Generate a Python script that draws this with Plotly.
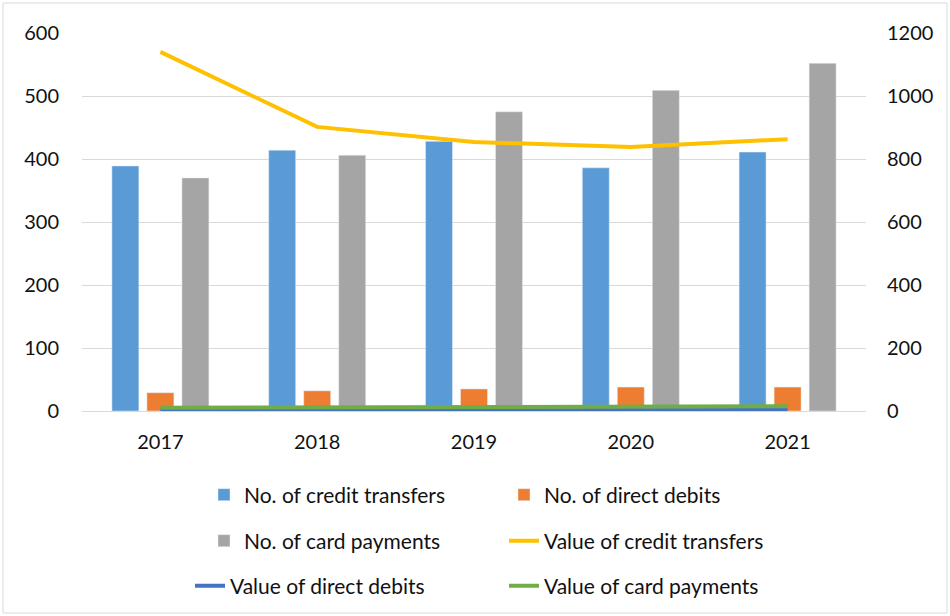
import plotly.graph_objects as go

years = ["2017", "2018", "2019", "2020", "2021"]

# nombre d'opérations (axe gauche)
nb_credit_transfers = [389, 414, 428, 386, 411]
nb_direct_debits = [29, 32, 35, 38, 38]
nb_card_payments = [370, 406, 475, 509, 552]

# valeurs (axe droit)
val_credit_transfers = [1140, 902, 854, 838, 863]
val_direct_debits = [2, 2, 3, 3, 3]
val_card_payments = [10, 11, 12, 14, 15]

FONT = "Lato"
TXT = "#111111"
W, H = 950, 616
L, R, T, B = 82, 84, 33, 205
pw, ph = W - L - R, H - T - B

fig = go.Figure()

fig.add_trace(go.Bar(x=years, y=nb_credit_transfers, name="No. of credit transfers",
                     marker_color="#5B9BD5", legend="legend"))
fig.add_trace(go.Bar(x=years, y=nb_direct_debits, name="No. of direct debits",
                     marker_color="#ED7D31", legend="legend"))
fig.add_trace(go.Bar(x=years, y=nb_card_payments, name="No. of card payments",
                     marker_color="#A5A5A5", legend="legend2"))
fig.add_trace(go.Scatter(x=years, y=val_credit_transfers, name="Value of credit transfers",
                         mode="lines", line=dict(color="#FFC000", width=4), yaxis="y2",
                         legend="legend2"))
fig.add_trace(go.Scatter(x=years, y=val_direct_debits, name="Value of direct debits",
                         mode="lines", line=dict(color="#4472C4", width=4), yaxis="y2",
                         legend="legend3"))
fig.add_trace(go.Scatter(x=years, y=val_card_payments, name="Value of card payments",
                         mode="lines", line=dict(color="#70AD47", width=4), yaxis="y2",
                         legend="legend3"))


def px_y(py):
    return (H - B - py) / ph


def px_x(px):
    return (px - L) / pw


leg = dict(orientation="h", x=px_x(204), xanchor="left", yanchor="middle",
           entrywidth=255, traceorder="normal",
           font=dict(family=FONT, size=21, color=TXT), bgcolor="rgba(0,0,0,0)")

fig.update_layout(
    width=W, height=H,
    margin=dict(l=L, r=R, t=T, b=B, autoexpand=False),
    paper_bgcolor="white", plot_bgcolor="white",
    font=dict(family=FONT, size=20, color=TXT),
    barmode="group", bargap=0.33, bargroupgap=0.23,
    xaxis=dict(showgrid=False, showline=True, linecolor="#D9D9D9", linewidth=1,
               ticks="", ticklabelstandoff=13, tickfont=dict(size=20)),
    yaxis=dict(range=[0, 600], dtick=100, showgrid=True, gridcolor="#D9D9D9",
               zeroline=False, ticks="", ticklabelstandoff=22, tickfont=dict(size=20)),
    yaxis2=dict(range=[0, 1200], dtick=200, overlaying="y", side="right",
                showgrid=False, zeroline=False, ticks="", ticklabelstandoff=20,
                tickfont=dict(size=20)),
    legend=dict(leg, y=px_y(495)),
    legend2=dict(leg, y=px_y(541)),
    legend3=dict(leg, y=px_y(586), x=px_x(190), entrywidth=269),
    shapes=[dict(type="rect", xref="paper", yref="paper",
                 x0=px_x(3), x1=px_x(947), y0=px_y(613), y1=px_y(3),
                 line=dict(color="#D9D9D9", width=1), fillcolor="rgba(0,0,0,0)",
                 layer="below")],
    showlegend=True,
)

# pas de marge autour du graphique dans la page, pas de barre d'outils
fig.write_html("out.html", config={"displayModeBar": False},
               post_script="document.body.style.margin='0';")
